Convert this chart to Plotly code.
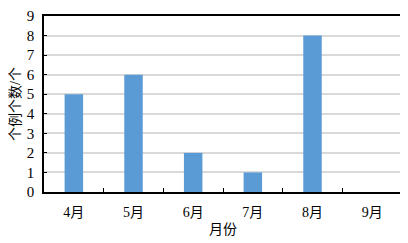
import plotly.graph_objects as go

months = ["4月", "5月", "6月", "7月", "8月", "9月"]
counts = [5, 6, 2, 1, 8, 0]
y_ticks = [0, 1, 2, 3, 4, 5, 6, 7, 8, 9]

font_fam = "Liberation Serif, Noto Sans CJK SC"

fig = go.Figure(go.Bar(x=months, y=counts, marker_color="#5B9BD5",
                       marker_line_width=0, width=0.31))

# page body has an 8px margin, so the figure is sized/shifted to compensate
fig.update_layout(
    width=400, height=235,
    margin=dict(l=36, r=6, t=8, b=51),
    paper_bgcolor="white", plot_bgcolor="white",
    font=dict(family=font_fam, size=14, color="black"),
    showlegend=False, bargap=0.69,
)
fig.update_xaxes(
    automargin=False,
    title=dict(text="月份", font=dict(size=14), standoff=6),
    showline=True, linecolor="black", linewidth=1.5, mirror=True,
    ticks="inside", ticklen=4, tickcolor="black", tickson="boundaries",
    tickfont=dict(size=14), showgrid=False, ticklabelstandoff=6,
)
fig.update_yaxes(
    automargin=False,
    title=dict(text="个例个数/个", font=dict(size=14), standoff=6),
    range=[0, 9], tickvals=y_ticks,
    showline=True, linecolor="black", linewidth=1.5, mirror=True,
    ticks="inside", ticklen=3, tickcolor="black",
    showgrid=True, gridcolor="#D9D9D9", gridwidth=1.5,
    tickfont=dict(size=15), zeroline=False, ticklabelstandoff=5,
    ticklabeloverflow="allow",
)
fig.write_html("out.html")
